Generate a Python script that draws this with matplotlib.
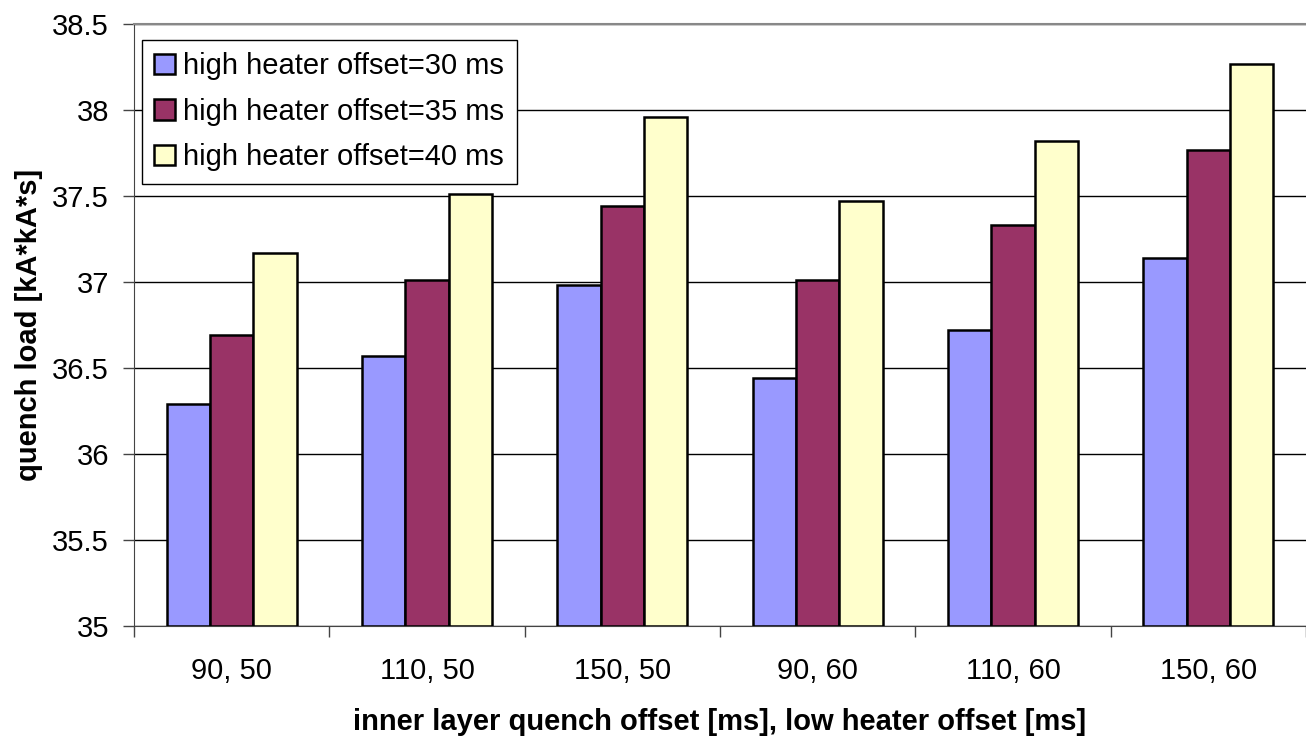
import numpy as np
import matplotlib.pyplot as plt
from matplotlib.ticker import FixedLocator

plt.rcParams['font.family'] = ['Liberation Sans', 'DejaVu Sans']

# Quench load per (inner layer offset, low heater offset) setting
categories = ['90, 50', '110, 50', '150, 50', '90, 60', '110, 60', '150, 60']
offset_30 = [36.29, 36.57, 36.98, 36.44, 36.72, 37.14]
offset_35 = [36.69, 37.01, 37.44, 37.01, 37.33, 37.77]
offset_40 = [37.17, 37.51, 37.96, 37.47, 37.82, 38.27]
series_labels = ['high heater offset=30 ms', 'high heater offset=35 ms', 'high heater offset=40 ms']
y_ticks = [35, 35.5, 36, 36.5, 37, 37.5, 38, 38.5]
y_ticklabels = ['35', '35.5', '36', '36.5', '37', '37.5', '38', '38.5']

colors = ['#9999FF', '#993366', '#FFFFCC']
fs = 21

fig = plt.figure(figsize=(13.06, 7.38), dpi=100)
ax = fig.add_axes([134 / 1306, 112 / 738, 1172 / 1306, 602 / 738])

x = np.arange(len(categories))
bar_w = 1 / 4.5  # 150% gap between groups
base = 35.0
for i, (vals, lab) in enumerate(zip([offset_30, offset_35, offset_40], series_labels)):
    heights = np.array(vals) - base
    ax.bar(x + (i - 1) * bar_w, heights, bar_w, bottom=base, color=colors[i],
           edgecolor='black', linewidth=1.8, label=lab, zorder=3)

ax.set_xlim(-0.5, len(categories) - 0.5)
ax.set_ylim(35, 38.5)

# horizontal gridlines
ax.set_yticks(y_ticks)
ax.set_yticklabels(y_ticklabels)
ax.grid(axis='y', color='black', linewidth=1.0, zorder=0)

# category labels centred, tick marks between groups
ax.set_xticks(x)
ax.set_xticklabels(categories)
ax.xaxis.set_minor_locator(FixedLocator(np.arange(-0.5, len(categories), 1.0)))
ax.tick_params(axis='x', which='major', length=0, pad=22, labelsize=fs)
ax.tick_params(axis='x', which='minor', length=8, width=1.0, color='#444444')
ax.tick_params(axis='y', which='major', length=8, width=1.0, color='#444444',
               pad=10, labelsize=fs)

ax.spines['top'].set_color('#888888')
ax.spines['top'].set_linewidth(1.5)
ax.spines['right'].set_visible(False)
ax.spines['left'].set_color('#444444')
ax.spines['bottom'].set_color('#444444')

ax.set_ylabel('quench load [kA*kA*s]', fontsize=fs, fontweight='bold', labelpad=7)
ax.set_xlabel('inner layer quench offset [ms], low heater offset [ms]', fontsize=fs,
              fontweight='bold', labelpad=17)

leg = ax.legend(loc='upper left', bbox_to_anchor=(142 / 1306, 1 - 40 / 738),
                bbox_transform=fig.transFigure, borderaxespad=0, fontsize=fs,
                fancybox=False, framealpha=1, edgecolor='black',
                handlelength=0.7, handleheight=0.7, handletextpad=0.3,
                labelspacing=0.6, borderpad=0.42)
leg.get_frame().set_linewidth(1.0)
leg.set_zorder(5)

fig.savefig('out.png', dpi=100)
